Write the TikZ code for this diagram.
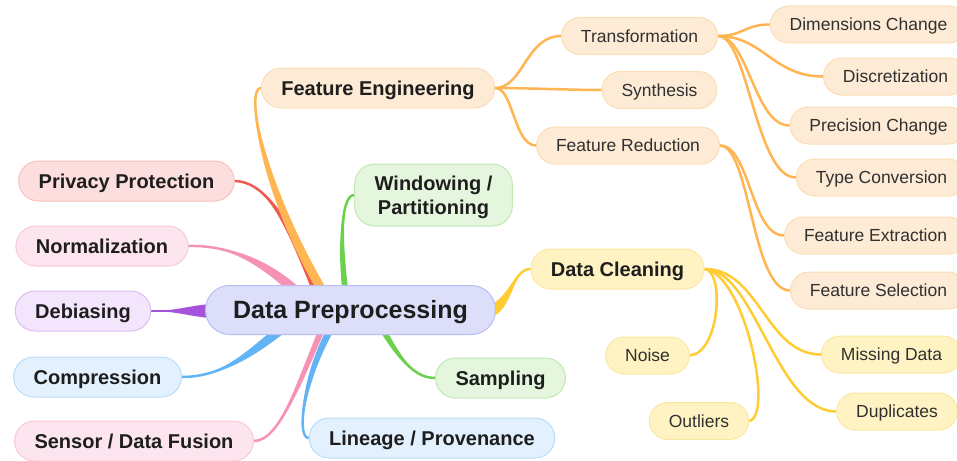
\documentclass[tikz,border=0pt]{standalone}
\usepackage{fontspec}
\setmainfont{Liberation Sans}
\usetikzlibrary{calc}
\pgfdeclarelayer{bg}
\pgfsetlayers{bg,main}
\definecolor{txt}{HTML}{1E1E1E}
\definecolor{txtb}{HTML}{303030}
\definecolor{cenF}{HTML}{DCDEFA}\definecolor{cenD}{HTML}{B9BEF2}
\definecolor{oraF}{HTML}{FEEBD5}\definecolor{oraD}{HTML}{FCDDB6}\definecolor{oraL}{HTML}{FFB552}
\definecolor{redF}{HTML}{FDDEDE}\definecolor{redD}{HTML}{F8C0BE}\definecolor{redL}{HTML}{EE5B50}
\definecolor{pnkF}{HTML}{FDE5EF}\definecolor{pnkD}{HTML}{F9C8DB}\definecolor{pnkL}{HTML}{F592B6}
\definecolor{purF}{HTML}{F3E6FC}\definecolor{purD}{HTML}{DDBDF4}\definecolor{purL}{HTML}{A653DC}
\definecolor{bluF}{HTML}{E2F1FD}\definecolor{bluD}{HTML}{BCDDF8}\definecolor{bluL}{HTML}{62B4F4}
\definecolor{grnF}{HTML}{E4F6DD}\definecolor{grnD}{HTML}{C3E8B3}\definecolor{grnL}{HTML}{6BD14C}
\definecolor{yelF}{HTML}{FFF3C4}\definecolor{yelD}{HTML}{FCE7A0}\definecolor{yelL}{HTML}{FFCC33}
\newcommand\mainedge[6]{%
  \path ($(#5)!#6pt!90:(#4)$) coordinate (ta) ($(#5)!#6pt!-90:(#4)$) coordinate (tb);
  \fill[#1] (#2) .. controls (#3) and ($(#4)+(ta)-(#5)$) .. (ta) -- (tb)
     .. controls ($(#4)+(tb)-(#5)$) and (#3) .. (#2) -- cycle;
  \draw[#1, line width=2.5, line cap=round] (#2) .. controls (#3) and (#4) .. (#5);
}
\tikzset{
  cen/.style={rectangle, rounded corners=24, text=txt, inner ysep=0, inner xsep=27.5,
    text height=17.9pt, text depth=0pt,
    minimum height=49, font=\fontsize{25}{30}\bfseries\selectfont, fill=cenF, draw=cenD, line width=1},
  lbase/.style={rectangle, rounded corners=20, text=txt, inner ysep=0, inner xsep=20,
    minimum height=40, font=\fontsize{20}{24}\bfseries\selectfont, line width=1},
  lone/.style={lbase, text height=14.3pt, text depth=0pt},
  ltwo/.style={rectangle, rounded corners=18.5, text=txtb, inner ysep=0, inner xsep=19.5,
    text height=12.5pt, text depth=0pt,
    minimum height=37, font=\fontsize{17.5}{21}\selectfont, line width=1},
  ora/.style={fill=oraF, draw=oraD}, rdn/.style={fill=redF, draw=redD},
  pnk/.style={fill=pnkF, draw=pnkD}, pur/.style={fill=purF, draw=purD},
  blu/.style={fill=bluF, draw=bluD}, grn/.style={fill=grnF, draw=grnD},
  yel/.style={fill=yelF, draw=yelD},
  subO/.style={draw=oraL, line width=2.5},
  subY/.style={draw=yelL, line width=2.5},
}
\begin{document}
\begin{tikzpicture}[x=1pt,y=-1pt]
\useasboundingbox (0,0) rectangle (957,460);
% central
\node[cen] (dp) at (350.5,310) {Data Preprocessing};
% level one
\node[lone,ora] (fe) at (378,88) {Feature Engineering};
\node[lone,rdn] (pp) at (126.5,181) {Privacy Protection};
\node[lone,pnk] (nm) at (102,246) {Normalization};
\node[lone,pur] (db) at (83,311) {Debiasing};
\node[lone,blu] (cp) at (97.5,377) {Compression};
\node[lone,pnk] (sf) at (134,441) {Sensor / Data Fusion};
\node[lbase,grn,align=center,minimum height=62,text depth=0pt,font=\fontsize{20}{24}\bfseries\selectfont] (wp) at (433.5,195) {Windowing /\\Partitioning};
\node[lone,yel] (dc) at (617.5,269) {Data Cleaning};
\node[lone,grn] (sa) at (500.5,378) {Sampling};
\node[lone,blu] (lp) at (432,438) {Lineage / Provenance};
% level two
\node[ltwo,ora] (tr) at (639.5,36) {Transformation};
\node[ltwo,ora] (sy) at (659.5,90) {Synthesis};
\node[ltwo,ora] (fr) at (628,145.5) {Feature Reduction};
\node[ltwo,ora] (dm) at (868.5,24.5) {Dimensions Change};
\node[ltwo,ora] (ds) at (895.5,76.5) {Discretization};
\node[ltwo,ora] (pc) at (878.5,125.5) {Precision Change};
\node[ltwo,ora] (tc) at (881.5,177.5) {Type Conversion};
\node[ltwo,ora] (fx) at (875.5,235.5) {Feature Extraction};
\node[ltwo,ora] (fs) at (878.5,290.5) {Feature Selection};
\node[ltwo,yel] (no) at (647.5,355.5) {Noise};
\node[ltwo,yel] (ou) at (699,421) {Outliers};
\node[ltwo,yel] (md) at (891.5,354.5) {Missing Data};
\node[ltwo,yel] (du) at (897,411.5) {Duplicates};
\begin{pgfonlayer}{bg}
% main tapered edges
\mainedge{pnkL}{sf.east}{280,441}{300,380}{325,322}{3}
\mainedge{bluL}{lp.west}{295,438}{305,370}{335,322}{3.5}
\mainedge{redL}{pp.east}{268,182}{290,225}{318,295}{4}
\mainedge{oraL}{fe.west}{245,88}{262,190}{326,297}{4.5}
\mainedge{pnkL}{nm.east}{230,245}{265,262}{300,295}{5}
\mainedge{purL}{db.east}{178,311}{195,311}{215,311}{7}
\mainedge{bluL}{cp.east}{225,377}{255,350}{290,322}{5}
\mainedge{grnL}{wp.west}{340,195}{340,250}{346,297}{3}
\mainedge{grnL}{sa.west}{410,378}{395,350}{378,322}{3}
\mainedge{yelL}{dc.west}{512,269}{512,305}{488,312}{6}
% sub edges
\draw[subO] (fe.east) .. controls +(28,0) and +(-35,0) .. (tr.west);
\draw[subO] (fe.east) .. controls +(30,0) and +(-30,0) .. (sy.west);
\draw[subO] (fe.east) .. controls +(18,0) and +(-22,0) .. (fr.west);
\draw[subO] (tr.east) .. controls +(25,0) and +(-25,0) .. (dm.west);
\draw[subO] (tr.east) .. controls +(45,0) and +(-50,0) .. (ds.west);
\draw[subO] (tr.east) .. controls +(30,0) and +(-35,0) .. (pc.west);
\draw[subO] (tr.east) .. controls +(30,0) and +(-40,0) .. (tc.west);
\draw[subO] (fr.east) .. controls +(30,0) and +(-33,0) .. (fx.west);
\draw[subO] (fr.east) .. controls +(30,0) and +(-38,0) .. (fs.west);
\draw[subY] (dc.east) .. controls +(55,0) and +(-55,0) .. (md.west);
\draw[subY] (dc.east) .. controls +(50,0) and +(-60,0) .. (du.west);
\draw[subY] (dc.east) .. controls +(20,2) and +(30,-3) .. (no.east);
\draw[subY] (dc.east) .. controls +(40,5) and +(25,-5) .. (ou.east);
\end{pgfonlayer}
\end{tikzpicture}
\end{document}
